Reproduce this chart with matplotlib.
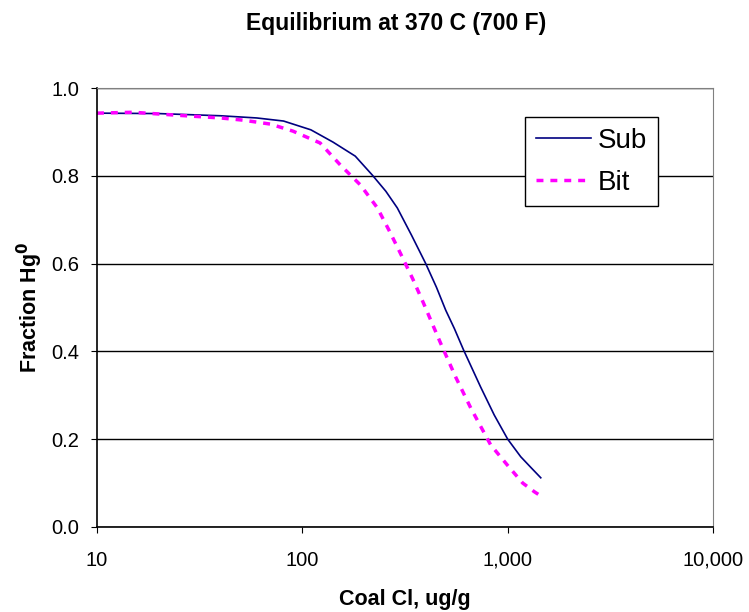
import matplotlib
matplotlib.use("Agg")
import matplotlib.pyplot as plt
from matplotlib.ticker import FixedLocator, NullLocator

plt.rcParams["font.family"] = ["Liberation Sans", "DejaVu Sans"]

sub_x = [10, 20, 40, 60, 81, 110, 141, 181, 219, 255, 290, 340, 398, 450, 499, 550, 610, 738, 860, 1000, 1157, 1300, 1449]
sub_y = [0.943, 0.942, 0.937, 0.932, 0.925, 0.905, 0.877, 0.845, 0.802, 0.765, 0.727, 0.665, 0.601, 0.546, 0.494, 0.452, 0.403, 0.319, 0.255, 0.200, 0.160, 0.135, 0.112]

bit_x = [10, 15, 25, 40, 51.5, 70, 90, 122, 153, 192, 232, 265, 300, 345, 389, 471, 560, 661, 826, 1000, 1183, 1350, 1500]
bit_y = [0.943, 0.945, 0.938, 0.932, 0.927, 0.918, 0.902, 0.875, 0.825, 0.779, 0.727, 0.675, 0.624, 0.565, 0.510, 0.419, 0.340, 0.271, 0.187, 0.140, 0.100, 0.080, 0.066]

x_ticks = [10, 100, 1000, 10000]
x_tick_labels = ["10", "100", "1,000", "10,000"]
y_ticks = [0.0, 0.2, 0.4, 0.6, 0.8, 1.0]

fig = plt.figure(figsize=(7.49, 6.12), dpi=100)
ax = fig.add_axes([0.1295, 0.139, 0.8225, 0.717])

ax.plot(sub_x, sub_y, color="#000080", lw=1.2, label="Sub")
ax.plot(bit_x, bit_y, color="#FF00FF", lw=2.5, ls=(0, (2, 2)), label="Bit")

ax.set_xscale("log")
ax.set_xlim(10, 10000)
ax.set_ylim(0, 1.0)
ax.xaxis.set_major_locator(FixedLocator(x_ticks))
ax.xaxis.set_minor_locator(NullLocator())
ax.set_xticklabels(x_tick_labels)
ax.set_yticks(y_ticks)
ax.set_yticklabels([f"{v:.1f}" for v in y_ticks])
ax.tick_params(axis="both", direction="out", length=4, labelsize=14.5)
ax.tick_params(axis="x", pad=13)
ax.tick_params(axis="y", pad=9)

ax.grid(axis="y", color="black", lw=1)
ax.set_axisbelow(True)
for side in ["top", "right"]:
    ax.spines[side].set_color("#808080")
for side in ["left", "bottom"]:
    ax.spines[side].set_color("black")
    ax.spines[side].set_linewidth(1.2)

ax.set_xlabel("Coal Cl, ug/g", fontsize=15.5, fontweight="bold", labelpad=14)
ax.set_ylabel("Fraction Hg$^\\mathbf{0}$", fontsize=15.5, fontweight="bold", labelpad=4)
fig.text(0.529, 0.962, "Equilibrium at 370 C (700 F)", ha="center", va="center",
         fontsize=16.5, fontweight="bold")

leg = ax.legend(loc="upper left", bbox_to_anchor=(0.695, 0.934), fontsize=20,
                frameon=True, fancybox=False, edgecolor="black", framealpha=1,
                handlelength=2.0, handletextpad=0.25, borderpad=0.38, labelspacing=0.58,
                borderaxespad=0)
leg.get_frame().set_linewidth(1)

fig.savefig("out.png", dpi=100)
